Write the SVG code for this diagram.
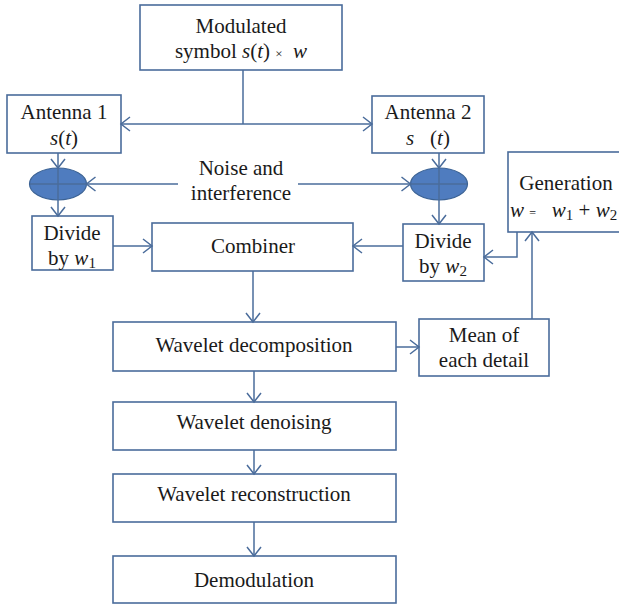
<svg xmlns="http://www.w3.org/2000/svg" width="619" height="605" viewBox="0 0 619 605">
<defs>
<marker id="a" markerUnits="userSpaceOnUse" markerWidth="12" markerHeight="16" refX="10" refY="8" orient="auto">
<path d="M1,1 L10,8 L1,15" fill="none" stroke="#4a6c9b" stroke-width="1.5"/>
</marker>
</defs>
<style>
.b{fill:#fff;stroke:#4a6c9b;stroke-width:1.6}
.t{font-family:"Liberation Serif","Times New Roman",serif;font-size:21px;fill:#1a1a1a;text-anchor:middle}
.i{font-style:italic}
.s{font-size:15px}
.c line,.c polyline{stroke:#4a6c9b;stroke-width:1.5;fill:none}
.e{fill:#4f7cbf;stroke:#3b6294;stroke-width:1.2}
</style>
<rect width="619" height="605" fill="#fff"/>
<g id="modulated"><rect class="b" x="140" y="5" width="202" height="65"/>
<text class="t" x="241" y="33">Modulated</text>
<text class="t" x="241" y="58" xml:space="preserve">symbol <tspan class="i">s</tspan>(<tspan class="i">t</tspan>) <tspan font-size="13">×</tspan>  <tspan class="i">w</tspan></text></g>
<g id="antenna1"><rect class="b" x="7" y="95" width="114" height="58"/>
<text class="t" x="64" y="119">Antenna 1</text>
<text class="t" x="64" y="145"><tspan class="i">s</tspan>(<tspan class="i">t</tspan>)</text></g>
<g id="antenna2"><rect class="b" x="372" y="96" width="112" height="57"/>
<text class="t" x="428" y="119">Antenna 2</text>
<text class="t" x="428" y="145" xml:space="preserve"><tspan class="i">s</tspan>   (<tspan class="i">t</tspan>)</text></g>
<g id="sum1"><ellipse class="e" cx="58" cy="184" rx="28.5" ry="16"/></g>
<g id="sum2"><ellipse class="e" cx="439" cy="184" rx="28.5" ry="16"/></g>
<g id="noise"><text class="t" x="241" y="175">Noise and</text>
<text class="t" x="241" y="200">interference</text></g>
<g id="divide1"><rect class="b" x="32" y="216" width="81" height="54"/>
<text class="t" x="72" y="240">Divide</text>
<text class="t" x="72" y="265">by <tspan class="i">w</tspan><tspan class="s" dy="3">1</tspan></text></g>
<g id="divide2"><rect class="b" x="403" y="224" width="81" height="57"/>
<text class="t" x="443" y="248">Divide</text>
<text class="t" x="443" y="273">by <tspan class="i">w</tspan><tspan class="s" dy="3">2</tspan></text></g>
<g id="generation"><rect class="b" x="508" y="152" width="116" height="80"/>
<text class="t" x="566" y="190">Generation</text>
<text class="t" x="510" y="217" style="text-anchor:start" xml:space="preserve"><tspan class="i">w</tspan> <tspan font-size="12">=</tspan>   <tspan class="i">w</tspan><tspan class="s" dy="3">1</tspan><tspan dy="-3"> + </tspan><tspan class="i">w</tspan><tspan class="s" dy="3">2</tspan></text></g>
<g id="combiner"><rect class="b" x="152" y="223" width="201" height="48"/>
<text class="t" x="253" y="253">Combiner</text></g>
<g id="decomposition"><rect class="b" x="113" y="322" width="283" height="49"/>
<text class="t" x="254" y="352">Wavelet decomposition</text></g>
<g id="mean"><rect class="b" x="419" y="319" width="130" height="57"/>
<text class="t" x="484" y="342">Mean of</text>
<text class="t" x="484" y="367">each detail</text></g>
<g id="denoising"><rect class="b" x="113" y="402" width="283" height="48"/>
<text class="t" x="254" y="429">Wavelet denoising</text></g>
<g id="reconstruction"><rect class="b" x="113" y="474" width="283" height="48"/>
<text class="t" x="254" y="501">Wavelet reconstruction</text></g>
<g id="demodulation"><rect class="b" x="113" y="556" width="283" height="47"/>
<text class="t" x="254" y="587">Demodulation</text></g>
<g class="c" id="connectors">
<line x1="243" y1="70" x2="243" y2="124"/>
<line x1="243" y1="124" x2="121" y2="124" marker-end="url(#a)"/>
<line x1="243" y1="124" x2="372" y2="124" marker-end="url(#a)"/>
<line x1="58" y1="153" x2="58" y2="168" marker-end="url(#a)"/>
<line x1="58" y1="168" x2="58" y2="216" marker-end="url(#a)"/>
<line x1="30" y1="184" x2="86" y2="184"/>
<line x1="178" y1="184" x2="86.5" y2="184" marker-end="url(#a)"/>
<line x1="439" y1="153" x2="439" y2="168" marker-end="url(#a)"/>
<line x1="439" y1="168" x2="439" y2="224" marker-end="url(#a)"/>
<line x1="411" y1="184" x2="467" y2="184"/>
<line x1="298" y1="184" x2="410.5" y2="184" marker-end="url(#a)"/>
<line x1="113" y1="246" x2="152" y2="246" marker-end="url(#a)"/>
<line x1="403" y1="246" x2="353" y2="246" marker-end="url(#a)"/>
<polyline points="517,232 517,257 484,257" marker-end="url(#a)"/>
<line x1="253" y1="271" x2="253" y2="322" marker-end="url(#a)"/>
<line x1="396" y1="347" x2="419" y2="347" marker-end="url(#a)"/>
<line x1="532" y1="319" x2="532" y2="232" marker-end="url(#a)"/>
<line x1="254" y1="371" x2="254" y2="402" marker-end="url(#a)"/>
<line x1="254" y1="450" x2="254" y2="474" marker-end="url(#a)"/>
<line x1="254" y1="522" x2="254" y2="556" marker-end="url(#a)"/>
</g>
</svg>
